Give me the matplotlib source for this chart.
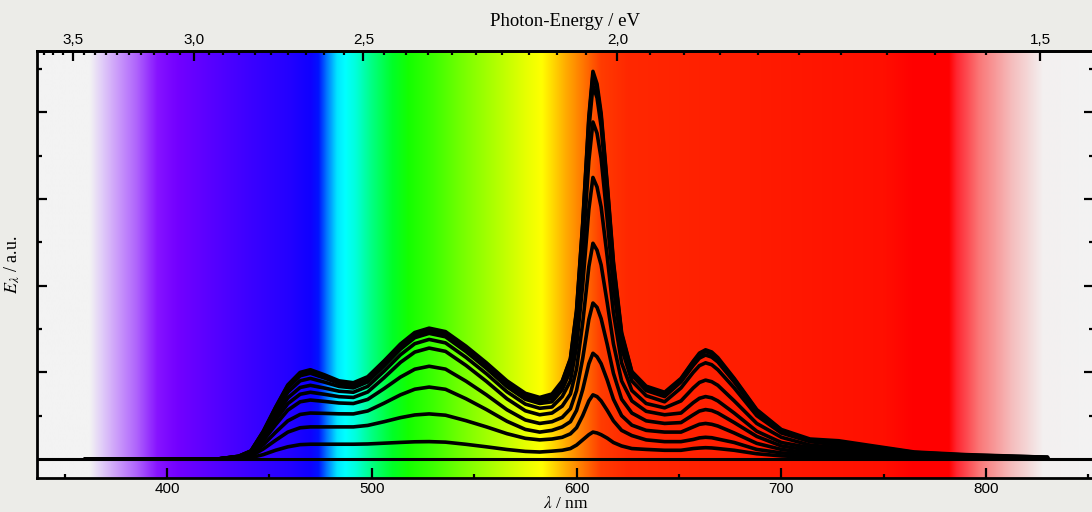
import numpy as np
import matplotlib.pyplot as plt
from matplotlib.ticker import MultipleLocator, FixedLocator, FuncFormatter, NullFormatter

plt.rcParams['font.family'] = ['Liberation Sans', 'DejaVu Sans']
plt.rcParams['mathtext.fontset'] = 'stix'

# wavelength grid (nm) of the read-off spectra
wavelength = [360, 425, 435, 441, 447, 453, 459, 465, 470, 477,
              484, 491, 498, 506, 514, 521, 528, 536, 546, 556,
              566, 575, 582, 588, 593, 597, 600, 603, 606, 608,
              610, 612, 615, 618, 622, 627, 634, 643, 651, 657,
              660, 663, 666, 669, 677, 688, 700, 714, 728, 745,
              765, 790, 830]

# emission spectra, lowest to highest (a.u.)
e1 = [0, 0, 0.005, 0.015, 0.05, 0.10, 0.14, 0.165, 0.17, 0.17,
      0.17, 0.17, 0.173, 0.182, 0.191, 0.198, 0.20, 0.194, 0.169, 0.14,
      0.109, 0.087, 0.08, 0.09, 0.10, 0.12, 0.16, 0.22, 0.28, 0.31,
      0.30, 0.28, 0.24, 0.19, 0.15, 0.12, 0.11, 0.10, 0.10, 0.12,
      0.126, 0.13, 0.127, 0.12, 0.10, 0.06, 0.035, 0.02, 0.02, 0.015,
      0.01, 0.005, 0]
e2 = [0, 0, 0.011, 0.033, 0.115, 0.215, 0.31, 0.36, 0.37, 0.37,
      0.37, 0.37, 0.387, 0.43, 0.477, 0.508, 0.52, 0.505, 0.442, 0.37,
      0.292, 0.238, 0.22, 0.23, 0.25, 0.29, 0.36, 0.50, 0.67, 0.74,
      0.72, 0.67, 0.56, 0.44, 0.33, 0.27, 0.22, 0.20, 0.20, 0.225,
      0.243, 0.25, 0.245, 0.23, 0.19, 0.11, 0.07, 0.045, 0.04, 0.03,
      0.02, 0.01, 0.005]
e3 = [0, 0, 0.016, 0.048, 0.164, 0.307, 0.44, 0.514, 0.53, 0.526,
      0.521, 0.52, 0.554, 0.644, 0.74, 0.805, 0.83, 0.804, 0.695, 0.57,
      0.435, 0.341, 0.31, 0.33, 0.37, 0.43, 0.56, 0.80, 1.10, 1.22,
      1.18, 1.10, 0.91, 0.69, 0.50, 0.39, 0.33, 0.31, 0.31, 0.37,
      0.40, 0.41, 0.40, 0.38, 0.30, 0.18, 0.11, 0.07, 0.06, 0.045,
      0.03, 0.015, 0.005]
e4 = [0, 0, 0.02, 0.061, 0.211, 0.394, 0.564, 0.66, 0.68, 0.664,
      0.646, 0.64, 0.687, 0.812, 0.945, 1.036, 1.07, 1.037, 0.898, 0.74,
      0.568, 0.45, 0.41, 0.43, 0.48, 0.58, 0.79, 1.16, 1.61, 1.80,
      1.75, 1.62, 1.32, 0.99, 0.69, 0.53, 0.44, 0.41, 0.42, 0.51,
      0.553, 0.57, 0.559, 0.53, 0.42, 0.26, 0.15, 0.10, 0.09, 0.06,
      0.04, 0.02, 0.01]
e5 = [0, 0, 0.023, 0.069, 0.239, 0.447, 0.639, 0.747, 0.77, 0.746,
      0.719, 0.71, 0.773, 0.938, 1.115, 1.234, 1.28, 1.242, 1.08, 0.895,
      0.695, 0.556, 0.51, 0.53, 0.61, 0.75, 1.04, 1.57, 2.22, 2.49,
      2.41, 2.24, 1.80, 1.33, 0.90, 0.67, 0.55, 0.51, 0.53, 0.65,
      0.70, 0.72, 0.706, 0.67, 0.53, 0.32, 0.19, 0.13, 0.11, 0.08,
      0.05, 0.025, 0.01]
e6 = [0, 0, 0.026, 0.077, 0.264, 0.493, 0.706, 0.825, 0.85, 0.818,
      0.782, 0.77, 0.837, 1.014, 1.203, 1.331, 1.38, 1.34, 1.173, 0.983,
      0.776, 0.633, 0.585, 0.60, 0.72, 0.90, 1.30, 2.01, 2.88, 3.25,
      3.14, 2.91, 2.33, 1.69, 1.11, 0.79, 0.64, 0.59, 0.67, 0.82,
      0.883, 0.91, 0.892, 0.85, 0.67, 0.41, 0.25, 0.16, 0.13, 0.09,
      0.055, 0.03, 0.01]
e7 = [0, 0, 0.028, 0.084, 0.288, 0.539, 0.772, 0.902, 0.93, 0.886,
      0.837, 0.82, 0.889, 1.072, 1.267, 1.40, 1.45, 1.41, 1.239, 1.045,
      0.834, 0.689, 0.64, 0.66, 0.80, 1.02, 1.51, 2.38, 3.44, 3.89,
      3.76, 3.47, 2.76, 1.99, 1.28, 0.90, 0.73, 0.66, 0.82, 1.00,
      1.077, 1.11, 1.088, 1.03, 0.82, 0.50, 0.30, 0.20, 0.16, 0.11,
      0.065, 0.035, 0.015]
e8 = [0, 0, 0.03, 0.089, 0.307, 0.574, 0.822, 0.96, 0.99, 0.934,
      0.871, 0.85, 0.919, 1.102, 1.297, 1.43, 1.48, 1.44, 1.269, 1.075,
      0.864, 0.719, 0.67, 0.70, 0.86, 1.11, 1.65, 2.62, 3.81, 4.31,
      4.17, 3.84, 3.05, 2.19, 1.40, 0.97, 0.79, 0.72, 0.89, 1.08,
      1.164, 1.20, 1.176, 1.12, 0.89, 0.54, 0.32, 0.22, 0.18, 0.13,
      0.07, 0.04, 0.015]
e9 = [0, 0, 0.031, 0.092, 0.316, 0.592, 0.847, 0.989, 1.02, 0.96,
      0.892, 0.87, 0.939, 1.122, 1.317, 1.45, 1.50, 1.46, 1.289, 1.095,
      0.884, 0.739, 0.69, 0.72, 0.89, 1.15, 1.70, 2.70, 3.91, 4.43,
      4.28, 3.95, 3.14, 2.25, 1.44, 1.00, 0.81, 0.75, 0.92, 1.12,
      1.203, 1.24, 1.215, 1.15, 0.92, 0.56, 0.33, 0.22, 0.20, 0.14,
      0.075, 0.045, 0.02]
e10 = [0, 0, 0.031, 0.093, 0.319, 0.597, 0.855, 0.999, 1.03, 0.97,
       0.902, 0.88, 0.949, 1.132, 1.327, 1.46, 1.51, 1.47, 1.302, 1.11,
       0.902, 0.758, 0.71, 0.75, 0.90, 1.16, 1.72, 2.72, 3.95, 4.475,
       4.33, 3.99, 3.17, 2.28, 1.46, 1.01, 0.84, 0.77, 0.93, 1.13,
       1.222, 1.26, 1.235, 1.17, 0.93, 0.57, 0.34, 0.23, 0.21, 0.15,
       0.08, 0.05, 0.02]
spectra = [e1, e2, e3, e4, e5, e6, e7, e8, e9, e10]

energy_ticks = [3.5, 3.0, 2.5, 2.0, 1.5]

# colour stops of the visible-spectrum backdrop (nm, rgb)
stops = [(336, (243, 243, 243)), (362, (243, 243, 243)), (368, (225, 205, 248)),
         (375, (205, 160, 250)), (385, (175, 100, 252)), (395, (135, 20, 255)),
         (405, (115, 0, 255)), (420, (90, 0, 255)), (440, (60, 0, 255)),
         (460, (35, 0, 255)), (470, (15, 0, 255)), (474, (0, 20, 255)),
         (478, (0, 120, 255)), (483, (0, 230, 255)), (487, (0, 255, 255)),
         (492, (0, 255, 220)), (500, (0, 255, 130)), (510, (0, 255, 40)),
         (518, (20, 255, 0)), (530, (60, 255, 0)), (545, (120, 255, 0)),
         (560, (175, 255, 0)), (575, (230, 255, 0)), (583, (255, 255, 0)),
         (588, (255, 220, 0)), (595, (255, 170, 0)), (603, (255, 120, 0)),
         (612, (255, 60, 0)), (625, (255, 40, 0)), (700, (255, 25, 0)),
         (750, (255, 15, 0)), (765, (255, 0, 0)), (782, (255, 0, 0)),
         (786, (255, 40, 50)), (797, (250, 120, 120)), (813, (245, 190, 190)),
         (828, (243, 240, 240)), (854, (243, 243, 243))]

xmin, xmax = 336.5, 852.7
ymin, ymax = -0.22, 4.71
HC = 1239.84

fig = plt.figure(figsize=(10.92, 5.12), dpi=100, facecolor='#ecece8')
ax = fig.add_axes([37 / 1092, 34 / 512, 1057 / 1092, 427 / 512])

# spectrum backdrop
lam = np.linspace(xmin, xmax, 1200)
sw = [s[0] for s in stops]
rgb = np.stack([np.interp(lam, sw, [s[1][i] for s in stops]) for i in range(3)], axis=-1) / 255
ax.imshow(rgb[np.newaxis, :, :], extent=[xmin, xmax, ymin, ymax], aspect='auto',
          interpolation='bilinear', zorder=0)

for s in spectra:
    ax.plot(wavelength, s, color='black', lw=2.6, solid_joinstyle='round',
            solid_capstyle='round', zorder=3)
ax.axhline(0, color='black', lw=2.2, zorder=4)

ax.set_xlim(xmin, xmax)
ax.set_ylim(ymin, ymax)

ax.xaxis.set_major_locator(MultipleLocator(100))
ax.xaxis.set_minor_locator(MultipleLocator(50))
ax.yaxis.set_major_locator(FixedLocator([1, 2, 3, 4]))
ax.yaxis.set_minor_locator(FixedLocator([0.5, 1.5, 2.5, 3.5, 4.5]))
ax.yaxis.set_major_formatter(NullFormatter())
ax.tick_params(which='both', direction='in', width=1.6, labelsize=11, color='black')
ax.tick_params(axis='x', which='major', length=7, pad=3, top=False)
ax.tick_params(axis='x', which='minor', length=3, top=False)
ax.tick_params(axis='y', which='major', length=7, left=True, right=True)
ax.tick_params(axis='y', which='minor', length=3.5, left=True, right=True)
for sp in ax.spines.values():
    sp.set_linewidth(2)

ax.set_xlabel(r'$\lambda$ / nm', family='Liberation Serif', fontsize=12.5)
ax.xaxis.set_label_coords(0.5, -18 / 427)
ax.set_ylabel(r'$E_\lambda$ / a.u.', family='Liberation Serif', fontsize=13, labelpad=7)

sec = ax.secondary_xaxis('top', functions=(lambda x: HC / np.asarray(x, dtype=float),
                                           lambda e: HC / np.asarray(e, dtype=float)))
sec.xaxis.set_major_locator(FixedLocator(energy_ticks))
sec.xaxis.set_minor_locator(FixedLocator(np.arange(1.45, 3.75, 0.05)))
sec.xaxis.set_major_formatter(FuncFormatter(lambda v, p: f'{v:.1f}'.replace('.', ',')))
sec.tick_params(which='both', direction='in', width=1.6, labelsize=11)
sec.tick_params(which='major', length=7, pad=3)
sec.tick_params(which='minor', length=3)
sec.spines['top'].set_linewidth(2)
sec.set_xlabel('Photon-Energy / eV', family='Liberation Serif', fontsize=13.5, labelpad=5)

fig.savefig('out.png', dpi=100, facecolor=fig.get_facecolor())
